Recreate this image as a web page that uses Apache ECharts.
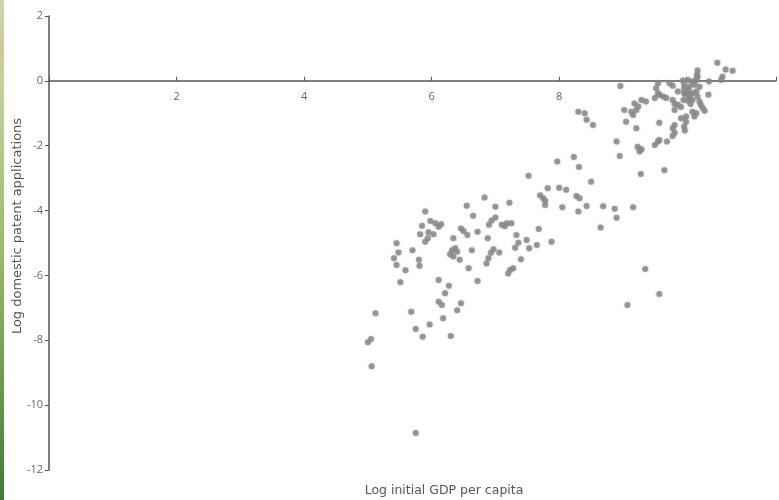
<!DOCTYPE html>
<html>
<head>
<meta charset="utf-8">
<script src="https://cdn.jsdelivr.net/npm/echarts@6/dist/echarts.min.js"></script>
<style>
html,body{margin:0;padding:0;background:#fff;}
#chart{width:779px;height:500px;}
</style>
</head>
<body>
<div id="chart"></div>
<script>
// Log initial GDP per capita (x) and Log domestic patent applications (y)
var gdpLog = [
5.00,5.05,5.12,5.06,5.75,5.45,5.48,5.70,5.41,5.45,5.59,5.80,5.81,5.51,5.90,5.98,6.06,6.11,6.15,5.85,
5.82,5.95,6.03,5.90,5.94,6.55,6.65,6.46,6.50,6.56,6.34,6.32,6.29,6.34,6.37,6.40,6.44,6.63,6.58,6.72,
6.11,6.27,6.21,6.11,6.16,6.46,6.40,6.18,5.68,5.97,5.75,5.86,6.30,
6.83,7.00,7.22,7.00,6.94,6.90,7.10,7.18,7.25,7.15,6.72,6.88,7.33,7.68,7.49,7.36,7.31,7.53,7.65,7.88,
6.97,6.93,6.89,6.86,7.06,7.40,7.28,7.23,7.20,
7.52,7.82,8.00,8.11,7.70,7.75,7.78,7.78,8.05,8.27,8.32,8.43,8.30,7.97,8.23,8.31,8.50,8.69,8.87,8.90,
9.16,8.65,9.35,9.57,9.07,8.95,9.28,9.65,
8.30,8.40,8.43,8.53,8.96,8.90,9.02,9.05,9.21,9.24,9.21,9.16,9.29,9.36,9.23,9.29,9.26,9.50,9.55,9.57,
9.69,9.57,9.50,9.55,9.63,9.68,9.55,9.52,9.73,9.78,9.94,10.02,10.09,10.15,9.96,10.04,10.12,10.20,10.35,
10.17,10.16,10.17,10.48,10.61,10.72,10.56,10.54,9.86,9.96,10.04,10.09,10.15,9.95,10.02,10.09,10.17,10.20,
9.78,9.81,9.86,9.91,10.22,10.25,10.34,10.09,10.15,10.12,10.28,9.81,9.91,9.99,9.81,9.78,9.99,9.96,9.97,
9.81,9.78,10.02,10.06,9.99,9.96,9.57,9.18,9.13
];
var patentLog = [
-8.06,-7.96,-7.17,-8.80,-10.86,-5.01,-5.29,-5.22,-5.47,-5.68,-5.84,-5.52,-5.70,-6.21,-4.03,-4.32,-4.39,-4.50,-4.42,-4.47,
-4.73,-4.67,-4.73,-4.96,-4.85,-3.85,-4.16,-4.55,-4.63,-4.75,-4.85,-5.22,-5.35,-5.42,-5.16,-5.27,-5.52,-5.22,-5.78,-6.17,
-6.14,-6.32,-6.55,-6.81,-6.91,-6.86,-7.07,-7.32,-7.12,-7.51,-7.65,-7.89,-7.87,
-3.60,-3.88,-3.76,-4.21,-4.31,-4.44,-4.44,-4.39,-4.39,-4.48,-4.65,-4.85,-4.75,-4.57,-4.91,-4.99,-5.15,-5.16,-5.06,-4.96,
-5.19,-5.30,-5.47,-5.63,-5.29,-5.50,-5.78,-5.83,-5.94,
-2.93,-3.31,-3.30,-3.36,-3.53,-3.62,-3.70,-3.83,-3.90,-3.55,-3.62,-3.86,-4.03,-2.49,-2.35,-2.66,-3.11,-3.87,-3.94,-4.22,
-3.90,-4.52,-5.80,-6.57,-6.91,-2.32,-2.87,-2.76,
-0.95,-1.00,-1.20,-1.36,-0.16,-1.87,-0.90,-1.26,-1.46,-0.79,-0.90,-1.05,-0.59,-0.64,-2.03,-2.11,-2.18,-1.98,-1.87,-1.82,
-1.87,-1.29,-0.53,-0.38,-0.48,-0.53,-0.07,-0.23,-0.07,-0.15,0.01,0.03,-0.02,0.03,-0.12,-0.18,-0.12,-0.18,-0.02,
0.32,0.19,0.12,0.56,0.35,0.31,0.13,0.03,-0.33,-0.38,-0.48,-0.38,-0.33,-0.59,-0.61,-0.59,-0.48,-0.64,
-0.59,-0.71,-0.74,-0.81,-0.74,-0.84,-0.43,-0.95,-1.00,-1.10,-0.92,-0.90,-1.15,-1.10,-1.36,-1.46,-1.26,-1.41,-1.53,
-1.60,-1.70,-0.28,-0.71,-0.40,-0.25,-0.43,-0.70,-0.95
];
var xTickLabels = [2, 4, 6, 8, 10];
var yTickLabels = [2, 0, -2, -4, -6, -8, -10, -12];
var xTitle = 'Log initial GDP per capita';
var yTitle = 'Log domestic patent applications';

var points = gdpLog.map(function (x, i) { return [x, patentLog[i]]; });

var chart = echarts.init(document.getElementById('chart'), null, {renderer: 'canvas'});
var labelFont = '"Open Sans", "DejaVu Sans", sans-serif';
var titleFont = '"DejaVu Sans", "Open Sans", sans-serif';
var yMin = -12, yMax = 2;
var gridTop = 16, gridBottom = 30, chartH = 500;
var gridH = chartH - gridTop - gridBottom;
// distance from grid bottom to value 0, used to place the x axis on the zero line
var xAxisOffset = -gridH * (0 - yMin) / (yMax - yMin);

chart.setOption({
  animation: false,
  backgroundColor: '#ffffff',
  grid: {left: 49, right: 0, top: gridTop, bottom: gridBottom, containLabel: false},
  xAxis: {
    type: 'value', min: 0, max: 11.4, interval: 2,
    position: 'bottom', offset: xAxisOffset,
    axisLine: {show: true, onZero: false, lineStyle: {color: '#555', width: 1.5}},
    axisTick: {show: true, inside: true, length: 4, lineStyle: {color: '#555', width: 1}},
    axisLabel: {
      color: '#666', fontSize: 11, fontFamily: labelFont, margin: 11,
      formatter: function (v) { return xTickLabels.indexOf(v) >= 0 ? String(v) : ''; }
    },
    splitLine: {show: false}
  },
  yAxis: {
    type: 'value', min: yMin, max: yMax, interval: 2,
    axisLine: {show: true, onZero: false, lineStyle: {color: '#555', width: 1.5}},
    axisTick: {show: true, inside: false, length: 4, lineStyle: {color: '#555', width: 1}},
    axisLabel: {
      color: '#666', fontSize: 11, fontFamily: labelFont, margin: 6,
      formatter: function (v) { return yTickLabels.indexOf(v) >= 0 ? String(v) : ''; }
    },
    splitLine: {show: false}
  },
  graphic: [
    {
      type: 'rect', left: 0, top: 0, z: 100,
      shape: {width: 4, height: 500},
      style: {
        fill: new echarts.graphic.LinearGradient(0, 0, 0, 1, [
          {offset: 0, color: '#c9d9ab'},
          {offset: 0.1, color: '#cfc79a'},
          {offset: 0.17, color: '#c2d29c'},
          {offset: 0.5, color: '#9cba6c'},
          {offset: 1, color: '#3f7d34'}
        ])
      }
    },
    {
      type: 'text', x: 444, y: 491, z: 100,
      style: {text: xTitle, fill: '#555', font: '12.5px ' + titleFont, textAlign: 'center', textVerticalAlign: 'middle'}
    },
    {
      type: 'text', x: 18, y: 226, rotation: Math.PI / 2, z: 100,
      style: {text: yTitle, fill: '#555', font: '13px ' + titleFont, textAlign: 'center', textVerticalAlign: 'middle'}
    }
  ],
  series: [{
    type: 'scatter',
    data: points,
    symbol: 'circle',
    symbolSize: 6,
    itemStyle: {color: '#8a8a8a', shadowBlur: 2, shadowColor: 'rgba(120,120,120,0.6)'}
  }]
});
</script>
</body>
</html>
